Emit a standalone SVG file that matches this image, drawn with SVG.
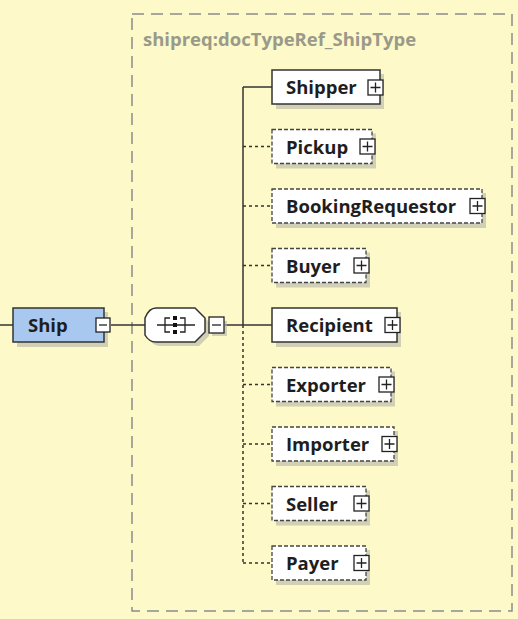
<svg xmlns="http://www.w3.org/2000/svg" width="518" height="619" viewBox="0 0 518 619">
<style>
.bg{fill:#fdf9c8}
.cont{fill:none;stroke:#8c8c8c;stroke-width:1.5;stroke-dasharray:12 7}
.lbl{font-family:"Open Sans","Noto Sans",sans-serif;font-weight:bold;font-size:18.5px;fill:#9a9a8a}
.shadow{fill:#b4b4a8;opacity:0.6}
.box{fill:#ffffff;stroke:#333333;stroke-width:1.5}
.opt{fill:#ffffff;stroke:#444444;stroke-width:1.3;stroke-dasharray:4 2}
.ship{fill:#a9c8ef;stroke:#333333;stroke-width:1.5}
.t{font-family:"Open Sans","Noto Sans",sans-serif;font-weight:bold;font-size:18.5px;fill:#1e1e1e}
.pm{fill:#ffffff;stroke:#222222;stroke-width:1.3}
.sym{stroke:#222222;stroke-width:1.3;fill:none}
.ln{stroke:#333333;stroke-width:1.5;fill:none}
.dl{stroke:#333333;stroke-width:1.5;fill:none;stroke-dasharray:3 3}
</style>
<rect class="bg" x="0" y="0" width="518" height="619"/>
<rect class="cont" x="132" y="14" width="380" height="597"/>
<text class="lbl" x="143" y="46">shipreq:docTypeRef_ShipType</text>

<g id="connectors">
<line class="ln" x1="0" y1="325" x2="13" y2="325"/>
<line class="ln" x1="111" y1="325" x2="145" y2="325"/>
<line class="ln" x1="225" y1="325" x2="243" y2="325"/>
<line class="ln" x1="243" y1="87" x2="243" y2="325"/>
<line class="dl" x1="243" y1="325" x2="243" y2="563"/>
<line class="ln" x1="243" y1="87" x2="272" y2="87"/>
<line class="dl" x1="243" y1="146.5" x2="272" y2="146.5"/>
<line class="dl" x1="243" y1="206" x2="272" y2="206"/>
<line class="dl" x1="243" y1="265.5" x2="272" y2="265.5"/>
<line class="ln" x1="243" y1="325" x2="272" y2="325"/>
<line class="dl" x1="243" y1="384.5" x2="272" y2="384.5"/>
<line class="dl" x1="243" y1="444" x2="272" y2="444"/>
<line class="dl" x1="243" y1="503.5" x2="272" y2="503.5"/>
<line class="dl" x1="243" y1="563" x2="272" y2="563"/>
</g>

<g id="ship">
<rect class="shadow" x="17" y="312" width="91" height="35"/>
<rect class="ship" x="13" y="308" width="91" height="34"/>
<text class="t" x="28" y="332" fill="#1a2a4a">Ship</text>
<rect class="pm" x="96" y="318" width="14" height="14"/>
<line class="sym" x1="99" y1="325" x2="107" y2="325"/>
</g>

<g id="sequence">
<path class="shadow" d="M160 312 H199 L209 322 V336 L199 346 H160 Q153 346 149 339 V322 Q153 312 160 312 Z"/>
<path class="box" d="M156 308 H195 L205 318 V332 L195 342 H156 Q149 342 145 335 V318 Q149 308 156 308 Z"/>
<line class="sym" x1="157" y1="325" x2="195" y2="325"/>
<path class="sym" d="M170 318 H165 V332 H170 M180 318 H185 V332 H180"/>
<rect x="173" y="316" width="4" height="4" fill="#111"/>
<rect x="173" y="323" width="4" height="4" fill="#111"/>
<rect x="173" y="330" width="4" height="4" fill="#111"/>
<rect class="shadow" x="212" y="321" width="15" height="15"/>
<rect class="pm" x="209" y="317" width="15" height="16"/>
<line class="sym" x1="212" y1="325" x2="221" y2="325"/>
</g>

<g id="Shipper">
<rect class="shadow" x="276" y="74" width="108" height="35"/>
<rect class="box" x="272" y="70" width="108" height="34"/>
<text class="t" x="286" y="94">Shipper</text>
<rect class="pm" x="368" y="80" width="15" height="15"/>
<path class="sym" d="M370.5 87.5 H380.5 M375.5 82.5 V92.5"/>
</g>

<g id="Pickup">
<rect class="shadow" x="276" y="133.5" width="100" height="35"/>
<rect class="opt" x="272" y="129.5" width="100" height="34"/>
<text class="t" x="286" y="153.5">Pickup</text>
<rect class="pm" x="360" y="139" width="15" height="15"/>
<path class="sym" d="M362.5 146.5 H372.5 M367.5 141.5 V151.5"/>
</g>

<g id="BookingRequestor">
<rect class="shadow" x="276" y="193" width="210" height="35"/>
<rect class="opt" x="272" y="189" width="210" height="34"/>
<text class="t" x="286" y="213">BookingRequestor</text>
<rect class="pm" x="470" y="198.5" width="15" height="15"/>
<path class="sym" d="M472.5 206 H482.5 M477.5 201 V211"/>
</g>

<g id="Buyer">
<rect class="shadow" x="276" y="252.5" width="94" height="35"/>
<rect class="opt" x="272" y="248.5" width="94" height="34"/>
<text class="t" x="286" y="272.5">Buyer</text>
<rect class="pm" x="354" y="258" width="15" height="15"/>
<path class="sym" d="M356.5 265.5 H366.5 M361.5 260.5 V270.5"/>
</g>

<g id="Recipient">
<rect class="shadow" x="276" y="312" width="125" height="35"/>
<rect class="box" x="272" y="308" width="125" height="34"/>
<text class="t" x="286" y="332">Recipient</text>
<rect class="pm" x="385" y="317.5" width="15" height="15"/>
<path class="sym" d="M387.5 325 H397.5 M392.5 320 V330"/>
</g>

<g id="Exporter">
<rect class="shadow" x="276" y="371.5" width="119" height="35"/>
<rect class="opt" x="272" y="367.5" width="119" height="34"/>
<text class="t" x="286" y="391.5">Exporter</text>
<rect class="pm" x="379" y="377" width="15" height="15"/>
<path class="sym" d="M381.5 384.5 H391.5 M386.5 379.5 V389.5"/>
</g>

<g id="Importer">
<rect class="shadow" x="276" y="431" width="122" height="35"/>
<rect class="opt" x="272" y="427" width="122" height="34"/>
<text class="t" x="286" y="451">Importer</text>
<rect class="pm" x="382" y="436.5" width="15" height="15"/>
<path class="sym" d="M384.5 444 H394.5 M389.5 439 V449"/>
</g>

<g id="Seller">
<rect class="shadow" x="276" y="490.5" width="94" height="35"/>
<rect class="opt" x="272" y="486.5" width="94" height="34"/>
<text class="t" x="286" y="510.5">Seller</text>
<rect class="pm" x="354" y="496" width="15" height="15"/>
<path class="sym" d="M356.5 503.5 H366.5 M361.5 498.5 V508.5"/>
</g>

<g id="Payer">
<rect class="shadow" x="276" y="550" width="94" height="35"/>
<rect class="opt" x="272" y="546" width="94" height="34"/>
<text class="t" x="286" y="570">Payer</text>
<rect class="pm" x="354" y="555.5" width="15" height="15"/>
<path class="sym" d="M356.5 563 H366.5 M361.5 558 V568"/>
</g>
</svg>
